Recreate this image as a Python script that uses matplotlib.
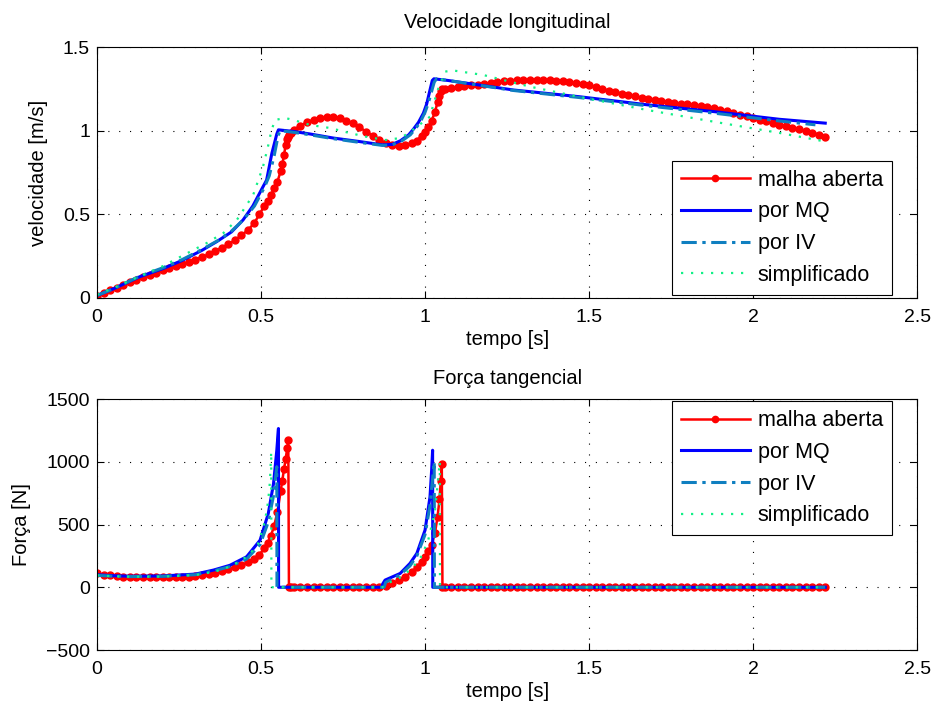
import matplotlib
matplotlib.use("Agg")
import matplotlib.pyplot as plt
import numpy as np

plt.rcParams['font.family'] = ['Liberation Sans', 'DejaVu Sans']
plt.rcParams['font.size'] = 14
plt.rcParams['lines.scale_dashes'] = False

# --- malha aberta (simulation output, adaptive time steps) ---
red_t = [0.00, 0.02, 0.04, 0.06, 0.08, 0.10, 0.12, 0.14, 0.16, 0.18, 0.20, 0.22, 0.24,
         0.26, 0.28, 0.30, 0.32, 0.34, 0.36, 0.38, 0.40, 0.42, 0.44, 0.46, 0.48,
         0.495, 0.51, 0.52, 0.53, 0.54, 0.55, 0.56, 0.565, 0.57, 0.575, 0.58, 0.583,
         0.585, 0.59, 0.60,
         0.62, 0.64, 0.66, 0.68, 0.70, 0.72, 0.74, 0.76, 0.78, 0.80, 0.82, 0.84, 0.86,
         0.88, 0.90, 0.92, 0.94, 0.96,
         0.975, 0.99, 1.00, 1.01, 1.02, 1.03, 1.038, 1.044, 1.048, 1.051, 1.053, 1.06,
         1.08, 1.10, 1.12, 1.14, 1.16, 1.18, 1.20, 1.22, 1.24, 1.26, 1.28, 1.30, 1.32,
         1.34, 1.36, 1.38, 1.40, 1.42, 1.44, 1.46, 1.48, 1.50, 1.52, 1.54, 1.56, 1.58,
         1.60, 1.62, 1.64, 1.66, 1.68, 1.70, 1.72, 1.74, 1.76, 1.78, 1.80, 1.82, 1.84,
         1.86, 1.88, 1.90, 1.92, 1.94, 1.96, 1.98, 2.00, 2.02, 2.04, 2.06, 2.08, 2.10,
         2.12, 2.14, 2.16, 2.18, 2.20, 2.22]
red_v = [0.01, 0.03, 0.045, 0.06, 0.08, 0.095, 0.11, 0.125, 0.14, 0.15, 0.165, 0.18, 0.19,
         0.205, 0.215, 0.23, 0.245, 0.26, 0.28, 0.30, 0.32, 0.345, 0.375, 0.405, 0.45,
         0.50, 0.55, 0.58, 0.615, 0.655, 0.695, 0.76, 0.80, 0.855, 0.915, 0.95, 0.965,
         0.975, 0.985, 1.005,
         1.03, 1.05, 1.065, 1.075, 1.08, 1.08, 1.075, 1.06, 1.045, 1.02, 0.995, 0.97, 0.945,
         0.925, 0.915, 0.91, 0.915, 0.925,
         0.94, 0.97, 0.99, 1.02, 1.06, 1.11, 1.17, 1.21, 1.235, 1.245, 1.25, 1.252,
         1.255, 1.26, 1.265, 1.27, 1.275, 1.28, 1.285, 1.29, 1.295, 1.298, 1.30, 1.302, 1.303,
         1.302, 1.30, 1.30, 1.298, 1.295, 1.29, 1.285, 1.278, 1.27, 1.26, 1.25, 1.24, 1.23,
         1.222, 1.213, 1.205, 1.198, 1.19, 1.183, 1.177, 1.171, 1.166, 1.162, 1.157, 1.151, 1.145,
         1.14, 1.134, 1.126, 1.117, 1.107, 1.096, 1.086, 1.076, 1.066, 1.056, 1.045, 1.035, 1.026,
         1.017, 1.007, 0.998, 0.988, 0.977, 0.965]
red_f = [110, 100, 95, 90, 85, 82, 80, 78, 78, 78, 78, 79, 80,
         82, 85, 90, 97, 105, 115, 128, 142, 158, 176, 198, 228,
         260, 310, 350, 410, 490, 600, 770, 850, 940, 1020, 1110, 1175,
         0, 0, 0,
         0, 0, 0, 0, 0, 0, 0, 0, 0, 0, 0, 0, 0,
         10, 30, 55, 85, 125,
         160, 205, 240, 285, 340, 430, 560, 700, 850, 985, 0, 0,
         0, 0, 0, 0, 0, 0, 0, 0, 0, 0, 0, 0, 0,
         0, 0, 0, 0, 0, 0, 0, 0, 0, 0, 0, 0, 0,
         0, 0, 0, 0, 0, 0, 0, 0, 0, 0, 0, 0, 0,
         0, 0, 0, 0, 0, 0, 0, 0, 0, 0, 0, 0, 0,
         0, 0, 0, 0, 0, 0]

# --- por MQ ---
mq_t_v = [0, 0.05, 0.13, 0.2, 0.26, 0.32, 0.365, 0.41, 0.445, 0.475, 0.506, 0.517, 0.533,
          0.548, 0.553, 0.6, 0.65, 0.72, 0.8, 0.87, 0.9, 0.925, 0.95, 0.965, 0.98, 0.995,
          1.005, 1.015, 1.022, 1.027, 1.07, 1.27, 1.47, 1.68, 1.88, 2.08, 2.22]
mq_v = [0.015, 0.055, 0.127, 0.175, 0.225, 0.285, 0.337, 0.395, 0.466, 0.55, 0.665, 0.705,
        0.865, 0.98, 1.005, 0.995, 0.98, 0.956, 0.935, 0.915, 0.918, 0.94, 0.975, 1.01, 1.05,
        1.105, 1.16, 1.243, 1.30, 1.31, 1.30, 1.243, 1.203, 1.154, 1.114, 1.068, 1.045]
mq_t_f = [0, 0.05, 0.1, 0.2, 0.3, 0.355, 0.405, 0.456, 0.497, 0.522, 0.538, 0.548, 0.553,
          0.5535, 0.87, 0.8705, 0.878, 0.924, 0.954, 0.975, 1.0, 1.015, 1.02, 1.023, 1.0235, 2.22]
mq_f = [100, 92, 88, 90, 105, 137, 175, 243, 375, 587, 826, 1092, 1265,
        0, 0, 25, 57, 110, 190, 270, 456, 720, 932, 1092, 0, 0]

# --- por IV ---
iv_t_v = [0, 0.05, 0.13, 0.2, 0.26, 0.32, 0.37, 0.41, 0.445, 0.48, 0.51, 0.525, 0.54,
          0.552, 0.558, 0.6, 0.65, 0.72, 0.8, 0.87, 0.9, 0.93, 0.955, 0.97, 0.985, 1.0,
          1.01, 1.02, 1.028, 1.035, 1.07, 1.27, 1.47, 1.68, 1.88, 2.08, 2.19]
iv_v = [0.015, 0.055, 0.13, 0.18, 0.23, 0.29, 0.345, 0.40, 0.465, 0.55, 0.66, 0.73, 0.85,
        0.97, 1.0, 0.99, 0.975, 0.952, 0.93, 0.912, 0.915, 0.94, 0.975, 1.01, 1.05, 1.11,
        1.165, 1.235, 1.29, 1.31, 1.30, 1.24, 1.198, 1.148, 1.105, 1.058, 1.035]
iv_t_f = [0, 0.05, 0.1, 0.2, 0.3, 0.355, 0.405, 0.456, 0.497, 0.522, 0.538, 0.548, 0.5485,
          0.875, 0.88, 0.924, 0.954, 0.975, 1.0, 1.015, 1.028, 1.0285, 2.22]
iv_f = [95, 88, 85, 87, 100, 130, 165, 225, 340, 520, 730, 960, 0,
        0, 40, 100, 170, 250, 420, 650, 1000, 0, 0]

# --- simplificado ---
simp_t_v = [0, 0.05, 0.13, 0.2, 0.284, 0.334, 0.385, 0.426, 0.476, 0.506, 0.521, 0.532,
            0.543, 0.573, 0.598, 0.65, 0.71, 0.77, 0.82, 0.88, 0.924, 0.95, 0.975, 1.0,
            1.015, 1.025, 1.04, 1.061, 1.085, 1.177, 1.32, 1.493, 1.676, 1.879, 2.082, 2.22]
simp_v = [0.02, 0.06, 0.13, 0.19, 0.277, 0.328, 0.388, 0.466, 0.616, 0.785, 0.904, 1.004,
          1.064, 1.076, 1.064, 1.034, 1.016, 0.986, 0.964, 0.944, 0.956, 0.985, 1.024, 1.06,
          1.084, 1.154, 1.25, 1.353, 1.36, 1.333, 1.263, 1.193, 1.124, 1.054, 0.986, 0.935]
simp_t_f = [0, 0.05, 0.1, 0.2, 0.3, 0.36, 0.41, 0.46, 0.49, 0.508, 0.516, 0.522, 0.527,
            0.531, 0.5315, 0.87, 0.875, 0.92, 0.96, 0.99, 1.01, 1.03, 1.045, 1.0455, 2.22]
simp_f = [95, 88, 84, 85, 97, 125, 170, 250, 340, 490, 590, 695, 840,
          1080, 0, 0, 20, 70, 150, 250, 380, 600, 1000, 0, 0]

labels = ['malha aberta', 'por MQ', 'por IV', 'simplificado']
c_red, c_mq, c_iv, c_simp = '#ff0000', '#0000ff', '#0f7fc0', '#12f088'

fig = plt.figure(figsize=(9.34, 7.09), dpi=100)
ax1 = fig.add_axes([0.1039, 0.5797, 0.878, 0.354])
ax2 = fig.add_axes([0.1039, 0.0832, 0.878, 0.354])


def draw(ax, series):
    (t0, y0), (t1, y1), (t2, y2), (t3, y3) = series
    ax.plot(t0, y0, color=c_red, lw=1.8, marker='o', ms=5, mec=c_red, mfc=c_red)
    ax.plot(t1, y1, color=c_mq, lw=2.2)
    ax.plot(t2, y2, color=c_iv, lw=2.2, linestyle=(0, (11, 4, 2.4, 4)))
    ax.plot(t3, y3, color=c_simp, lw=1.6, linestyle=(0, (1.6, 5.6)))


def style(ax, title, ylabel, tpad):
    ax.set_xlim(0, 2.5)
    ax.set_xticks([0, 0.5, 1, 1.5, 2, 2.5])
    ax.set_xticklabels(['0', '0.5', '1', '1.5', '2', '2.5'])
    ax.set_xlabel('tempo [s]', fontsize=14.5, labelpad=3)
    ax.set_ylabel(ylabel, fontsize=14.5, labelpad=11)
    ax.set_title(title, fontsize=14.5, pad=tpad)
    ax.grid(True, color='black', linestyle=(0, (0.8, 7)), linewidth=0.8)
    ax.tick_params(direction='in', top=True, right=True, length=5, width=0.8,
                   labelsize=14)
    ax.tick_params(axis='x', pad=8)
    ax.tick_params(axis='y', pad=5)
    for s in ax.spines.values():
        s.set_linewidth(0.8)


draw(ax1, [(red_t, red_v), (mq_t_v, mq_v), (iv_t_v, iv_v), (simp_t_v, simp_v)])
ax1.set_ylim(0, 1.5)
ax1.set_yticks([0, 0.5, 1, 1.5])
ax1.set_yticklabels(['0', '0.5', '1', '1.5'])
style(ax1, 'Velocidade longitudinal', 'velocidade [m/s]', 14)

draw(ax2, [(red_t, red_f), (mq_t_f, mq_f), (iv_t_f, iv_f), (simp_t_f, simp_f)])
ax2.set_ylim(-500, 1500)
ax2.set_yticks([-500, 0, 500, 1000, 1500])
style(ax2, 'Força tangencial', 'Força [N]', 11)

leg_kw = dict(numpoints=1, handlelength=3.2, handletextpad=0.38, labelspacing=0.5,
              borderpad=0.42, borderaxespad=0, fancybox=False, framealpha=1,
              edgecolor='black', fontsize=15.5)
l1 = ax1.legend(labels, loc='lower right', bbox_to_anchor=(0.9695, 0.012), **leg_kw)
l2 = ax2.legend(labels, loc='upper right', bbox_to_anchor=(0.9695, 0.992), **leg_kw)
for leg in (l1, l2):
    leg.get_frame().set_linewidth(0.8)
    leg.get_lines()[0].set_markersize(4.5)

fig.savefig('out.png', dpi=100)
